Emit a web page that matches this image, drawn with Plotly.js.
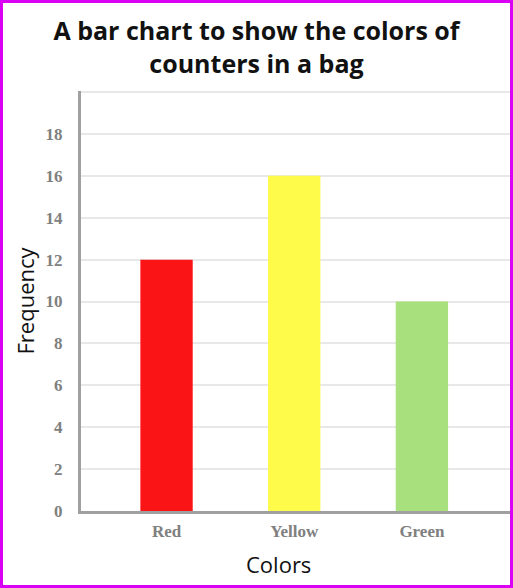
<!DOCTYPE html>
<html>
<head>
<script src="https://cdn.plot.ly/plotly-3.0.1.min.js"></script>
<style>
html,body{margin:0;padding:0;background:#fff;}
#wrap{width:513px;height:588px;box-sizing:border-box;border:3px solid #d900f5;overflow:hidden;}
#chart{width:507px;height:582px;}
</style>
</head>
<body>
<div id="wrap"><div id="chart"></div></div>
<script>
const categories = ["Red", "Yellow", "Green"];
const frequencies = [12, 16, 10];
const barColors = ["#fb1416", "#fefb4b", "#a8e07e"];
const yTickValues = [0, 2, 4, 6, 8, 10, 12, 14, 16, 18, 20];
const yTickLabels = ["0", "2", "4", "6", "8", "10", "12", "14", "16", "18", ""];

const trace = {
  type: "bar",
  x: categories,
  y: frequencies,
  marker: {color: barColors, line: {width: 0}},
  width: 0.41,
  hoverinfo: "x+y"
};

const layout = {
  width: 507,
  height: 582,
  margin: {l: 78, r: 0, t: 88, b: 74},
  paper_bgcolor: "#ffffff",
  plot_bgcolor: "#ffffff",
  showlegend: false,
  title: {
    text: "A bar chart to show the colors of<br>counters in a bag",
    font: {family: "Open Sans, sans-serif", size: 25, color: "#111111", weight: 700},
    x: 0.5, xanchor: "center",
    xref: "container",
    yref: "container",
    y: 0.936, yanchor: "top"
  },
  annotations: [{
    text: "Colors",
    xref: "paper", yref: "paper",
    x: 0.461, y: 0,
    xanchor: "center", yanchor: "top",
    yshift: -36,
    showarrow: false,
    font: {family: "Open Sans, sans-serif", size: 22, color: "#111111"}
  }],
  xaxis: {
    type: "category",
    range: [-0.67, 2.69],
    showgrid: false,
    zeroline: false,
    showline: true,
    linecolor: "#a0a0a0",
    linewidth: 3,
    ticks: "",
    ticklabelstandoff: 3,
    tickfont: {family: "Liberation Serif, serif", size: 17, color: "#808080", weight: 700}
  },
  yaxis: {
    range: [0, 20.05],
    tickmode: "array",
    tickvals: yTickValues,
    ticktext: yTickLabels,
    showgrid: true,
    gridcolor: "#e8e8e8",
    gridwidth: 2,
    zeroline: false,
    showline: true,
    linecolor: "#a0a0a0",
    linewidth: 3,
    ticks: "",
    ticklabelstandoff: 12,
    tickfont: {family: "Liberation Serif, serif", size: 17, color: "#808080", weight: 700},
    title: {text: "Frequency", font: {family: "Open Sans, sans-serif", size: 22, color: "#111111"}, standoff: 5}
  }
};

Plotly.newPlot("chart", [trace], layout, {displayModeBar: false, staticPlot: true});
</script>
</body>
</html>
